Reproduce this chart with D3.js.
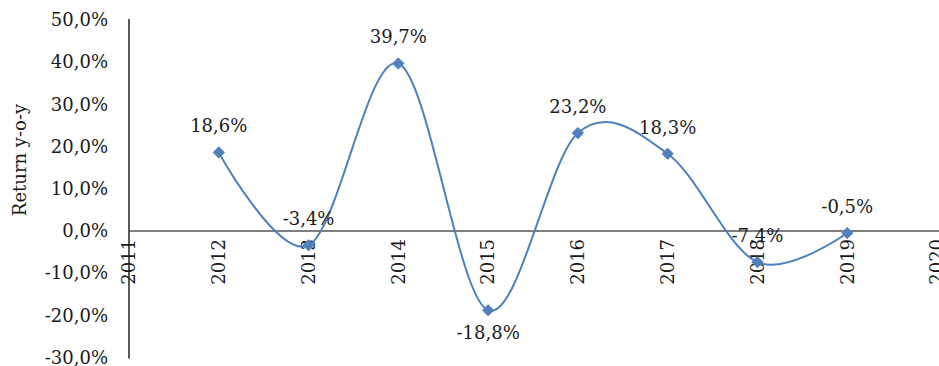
<!DOCTYPE html>
<html>
<head>
<meta charset="utf-8">
<script src="https://cdn.jsdelivr.net/npm/d3@7"></script>
<style>
  body { margin: 0; background: #fff; }
  text { font-family: "DejaVu Serif", serif; fill: #1a1a1a; }
</style>
</head>
<body>
<script>
const years = [2011, 2012, 2013, 2014, 2015, 2016, 2017, 2018, 2019, 2020]
const dataYears = [2012, 2013, 2014, 2015, 2016, 2017, 2018, 2019]
const returns = [18.6, -3.4, 39.7, -18.8, 23.2, 18.3, -7.4, -0.5]
const yTicks = [50, 40, 30, 20, 10, 0, -10, -20, -30]

const dimensions = {
    width: 939,
    height: 366
}

const svg = d3.select('body').append('svg')
    .attr('width', dimensions.width)
    .attr('height', dimensions.height)

const x = d3.scaleLinear()
    .domain([2011, 2020])
    .range([129, 937])

const y = d3.scaleLinear()
    .domain([-30, 50])
    .range([357.5, 20])

const fmt = v => v.toFixed(1).replace('.', ',') + '%'

// y axis
svg.append('line')
    .attr('x1', x(2011)).attr('x2', x(2011))
    .attr('y1', y(50) - 1).attr('y2', y(-30) + 1)
    .attr('stroke', '#222')
    .attr('stroke-width', 1.5)

svg.selectAll('.ytick')
    .data(yTicks)
    .enter()
    .append('text')
    .attr('class', 'ytick')
    .attr('x', 108)
    .attr('y', d => y(d))
    .attr('dy', '0.35em')
    .attr('text-anchor', 'end')
    .style('font-size', '18px')
    .text(fmt)

svg.append('text')
    .attr('transform', 'translate(26,160) rotate(-90)')
    .attr('text-anchor', 'middle')
    .style('font-size', '18px')
    .text('Return y-o-y')

// x axis at zero
svg.append('line')
    .attr('x1', x(2011)).attr('x2', dimensions.width)
    .attr('y1', y(0)).attr('y2', y(0))
    .attr('stroke', '#555')
    .attr('stroke-width', 1.5)

svg.selectAll('.xtick')
    .data(years)
    .enter()
    .append('text')
    .attr('class', 'xtick')
    .attr('transform', d => 'translate(' + x(d) + ',' + (y(0) + 8) + ') rotate(-90)')
    .attr('text-anchor', 'end')
    .attr('dy', '0.35em')
    .style('font-size', '18px')
    .text(d => d)

const points = dataYears.map((d, i) => [d, returns[i]])

const line = d3.line()
    .x(d => x(d[0]))
    .y(d => y(d[1]))
    .curve(d3.curveCatmullRom.alpha(0))

svg.append('path')
    .datum(points)
    .attr('fill', 'none')
    .attr('stroke', '#4F81BD')
    .attr('stroke-width', 2)
    .attr('d', line)

svg.selectAll('.marker')
    .data(points)
    .enter()
    .append('path')
    .attr('class', 'marker')
    .attr('d', d3.symbol().type(d3.symbolDiamond2).size(80))
    .attr('transform', d => 'translate(' + x(d[0]) + ',' + y(d[1]) + ')')
    .attr('fill', '#4F81BD')
    .attr('stroke', '#4F81BD')
    .attr('stroke-width', 1)

// data labels, 2015 sits under its point
svg.selectAll('.label')
    .data(points)
    .enter()
    .append('text')
    .attr('class', 'label')
    .attr('x', d => x(d[0]))
    .attr('y', d => d[0] === 2015 ? y(d[1]) + 29 : y(d[1]) - 20)
    .attr('text-anchor', 'middle')
    .style('font-size', '18px')
    .text(d => fmt(d[1]))
</script>
</body>
</html>
